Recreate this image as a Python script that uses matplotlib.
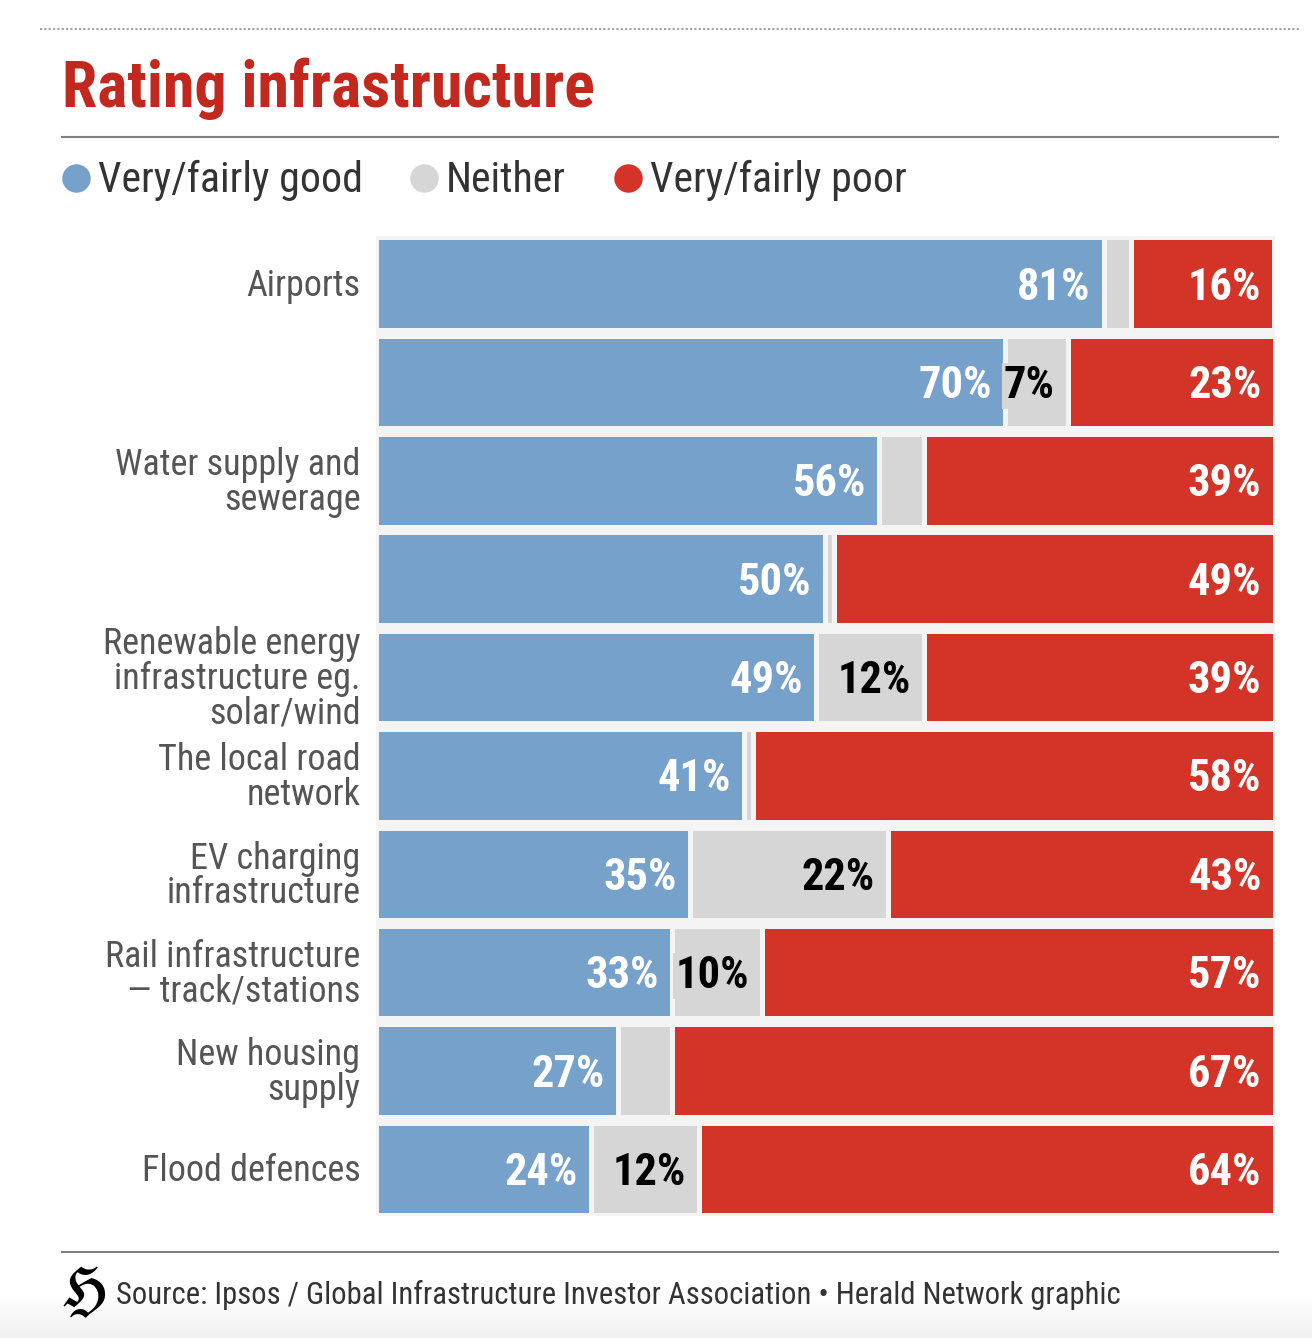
import matplotlib
matplotlib.use("Agg")
import matplotlib.pyplot as plt
import matplotlib.transforms as mtransforms
import numpy as np

plt.rcParams['font.family'] = ['Roboto Condensed', 'Liberation Sans Narrow', 'Roboto', 'DejaVu Sans']

# ---- data ----
categories = ["Airports", "", "Water supply and\nsewerage", "",
              "Renewable energy\ninfrastructure eg.\nsolar/wind",
              "The local road\nnetwork", "EV charging\ninfrastructure",
              "Rail infrastructure\n\u2014 track/stations", "New housing\nsupply",
              "Flood defences"]
good = [81, 70, 56, 50, 49, 41, 35, 33, 27, 24]
neither = [3, 7, 5, 1, 12, 1, 22, 10, 6, 12]
poor = [16, 23, 39, 49, 39, 58, 43, 57, 67, 64]
series_names = ["Very/fairly good", "Neither", "Very/fairly poor"]

BLUE = "#76a1cb"
GRAY = "#d6d6d6"
RED = "#d43428"
BG = "#f4f4f4"
TITLE_RED = "#c3281f"

W, H = 1312, 1338
DPI = 100
fig = plt.figure(figsize=(W / DPI, H / DPI), dpi=DPI)
fig.patch.set_facecolor("white")

# overlay axes in pixel coords for decorations
deco = fig.add_axes([0, 0, 1, 1], zorder=0)
deco.axis("off")

# bottom gradient
grad = np.linspace(0, 1, 50).reshape(-1, 1)
deco.imshow(grad, extent=[0, W, H, 1295],
            cmap=matplotlib.colors.LinearSegmentedColormap.from_list("g", ["#ffffff", "#f0f0f0"]),
            aspect="auto", zorder=0)
deco.set_xlim(0, W)
deco.set_ylim(H, 0)

# top dotted line
deco.plot([40, 1300], [29, 29], color="#9a9a9a", lw=1.3, ls=(0, (1.2, 1.2)))
# title
deco.text(62, 107, "Rating infrastructure", color=TITLE_RED, fontsize=46,
          fontweight="bold", ha="left", va="baseline")
# rule under title
deco.plot([62, 1278], [137, 137], color="#808080", lw=1.5)

# legend
leg_x = [76, 424, 628]
for c, x, name in zip([BLUE, GRAY, RED], leg_x, series_names):
    deco.plot([x], [178], marker="o", markersize=20.5, color=c, mec="none")
    deco.text(x + 22, 192, name, fontsize=30.2, color="#333333", ha="left", va="baseline")

# footer
deco.plot([62, 1278], [1252, 1252], color="#808080", lw=1.5)
deco.text(60, 1306, r"$\mathfrak{H}$", fontsize=41, color="black", ha="left",
          va="baseline", math_fontfamily="stix")
deco.text(116, 1304, "Source: Ipsos / Global Infrastructure Investor Association \u2022 Herald Network graphic",
          fontsize=22.1, color="#333333", ha="left", va="baseline")

# main bar axes
left_px, right_px = 375.5, 1274.5
top_px, bot_px = 236, 1216
ax = fig.add_axes([left_px / W, 1 - bot_px / H, (right_px - left_px) / W, (bot_px - top_px) / H], zorder=1)
ax.set_facecolor(BG)
n = len(categories)
y = np.arange(n)
ax.set_xlim(0, 100)
ax.set_ylim(n - 0.522, -0.483)

good_a = np.array(good, float)
nei_a = np.array(neither, float)
poor_a = np.array(poor, float)

bh = 0.94
ax.barh(y, good_a, left=0, height=bh, color=BLUE, edgecolor=BG, linewidth=3.6)
ax.barh(y, nei_a, left=good_a, height=bh, color=GRAY, edgecolor=BG, linewidth=3.6)
ax.barh(y, poor_a, left=good_a + nei_a, height=bh, color=RED, edgecolor=BG, linewidth=3.6)

for s in ax.spines.values():
    s.set_visible(False)
ax.set_xticks([])
ax.set_yticks([])

lab_tr = mtransforms.offset_copy(ax.transData, fig=fig, x=-13, y=-16, units="dots")
VFS = 32
for i in range(n):
    g, ne, p = good_a[i], nei_a[i], poor_a[i]
    ax.text(g, i, f"{int(g)}%", transform=lab_tr, ha="right", va="baseline",
            color="white", fontsize=VFS, fontweight="bold", zorder=3)
    if ne >= 7:
        ax.text(g + ne, i, f"{int(ne)}%", transform=lab_tr, ha="right", va="baseline",
                color="black", fontsize=VFS, fontweight="bold", zorder=4,
                bbox=dict(facecolor=GRAY, edgecolor="none", pad=1.5))
    ax.text(100, i, f"{int(p)}%", transform=lab_tr, ha="right", va="baseline",
            color="white", fontsize=VFS, fontweight="bold", zorder=3)

cat_tr = mtransforms.offset_copy(ax.transData, fig=fig, x=-15, y=-2, units="dots")
for i, c in enumerate(categories):
    if c:
        ax.text(0, i, c, transform=cat_tr, ha="right", va="center", ma="right",
                fontsize=26, color="#555555", linespacing=0.95, clip_on=False)

fig.savefig("out.png", dpi=DPI)
